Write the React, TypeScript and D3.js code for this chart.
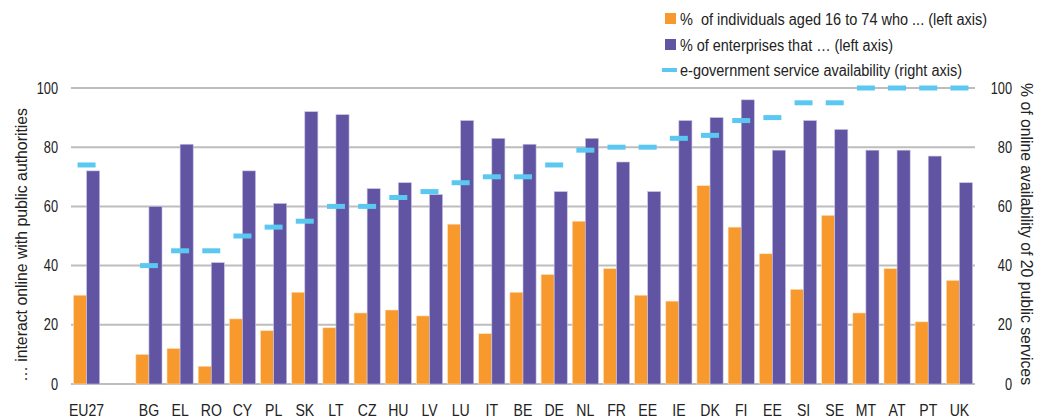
import React from "react";
import * as d3 from "d3";

// categories (the empty string keeps the gap after EU27)
const countries = ["EU27", "", "BG", "EL", "RO", "CY", "PL", "SK", "LT", "CZ", "HU", "LV", "LU", "IT", "BE", "DE", "NL", "FR", "EE", "IE", "DK", "FI", "EE", "SI", "SE", "MT", "AT", "PT", "UK"];

// % of individuals aged 16 to 74 who interact online with public authorities
const individuals = [30, null, 10, 12, 6, 22, 18, 31, 19, 24, 25, 23, 54, 17, 31, 37, 55, 39, 30, 28, 67, 53, 44, 32, 57, 24, 39, 21, 35];
// % of enterprises that interact online with public authorities
const enterprises = [72, null, 60, 81, 41, 72, 61, 92, 91, 66, 68, 64, 89, 83, 81, 65, 83, 75, 65, 89, 90, 96, 79, 89, 86, 79, 79, 77, 68];
// e-government service availability (right axis)
const availability = [74, null, 40, 45, 45, 50, 53, 55, 60, 60, 63, 65, 68, 70, 70, 74, 79, 80, 80, 83, 84, 89, 90, 95, 95, 100, 100, 100, 100];

const leftTicks = [0, 20, 40, 60, 80, 100];
const rightTicks = [0, 20, 40, 60, 80, 100];

const ORANGE = "#F7992C";
const PURPLE = "#6155A3";
const CYAN = "#5BC8F1";
const GRID = "#BDBDBD";
const FONT = "'Liberation Sans', Arial, sans-serif";

export default function App() {
  const width = 1037, height = 419;
  const left = 71, right = 975, top = 88, bottom = 384;

  const x = d3.scaleBand<number>()
    .domain(countries.map((_, i) => i))
    .range([left, right])
    .paddingInner(0.16)
    .paddingOuter(0.08);
  const inner = d3.scaleBand<string>()
    .domain(["ind", "ent"])
    .range([0, x.bandwidth()]);
  const y = d3.scaleLinear().domain([0, 100]).range([bottom, top]);
  const y2 = d3.scaleLinear().domain([0, 100]).range([bottom, top]);

  return (
    <div style={{ position: "absolute", left: 0, top: 0 }}>
      <svg width={width} height={height} style={{ display: "block", fontFamily: FONT }}>
        <rect width={width} height={height} fill="#fff" />

        {/* gridlines */}
        {leftTicks.map(t => (
          <line key={"g" + t} x1={left} x2={right} y1={y(t)} y2={y(t)} stroke={GRID} strokeWidth={2} />
        ))}

        {/* bars */}
        {countries.map((c, i) => {
          const x0 = x(i)!;
          const a = individuals[i], b = enterprises[i];
          return (
            <g key={"b" + i}>
              {a != null && (
                <rect x={x0 + inner("ind")!} y={y(a)} width={inner.bandwidth()} height={bottom - y(a)}
                  fill={ORANGE} stroke="#fbe3c4" strokeWidth={0.6} />
              )}
              {b != null && (
                <rect x={x0 + inner("ent")!} y={y(b)} width={inner.bandwidth()} height={bottom - y(b)}
                  fill={PURPLE} stroke="#c9c4e4" strokeWidth={0.6} />
              )}
            </g>
          );
        })}

        {/* e-government availability dashes */}
        {countries.map((c, i) => {
          const v = availability[i];
          if (v == null) return null;
          const cx = x(i)! + x.bandwidth() / 2;
          return (
            <line key={"d" + i} x1={cx - 9} x2={cx + 9} y1={y2(v)} y2={y2(v)} stroke={CYAN} strokeWidth={5} />
          );
        })}

        {/* left axis labels */}
        {leftTicks.map(t => (
          <text key={"l" + t} transform={`translate(58,${y(t)}) scale(0.8,1)`} dy="0.35em" textAnchor="end" fontSize={16} fill="#222">{t}</text>
        ))}
        {/* right axis labels */}
        {rightTicks.map(t => (
          <text key={"r" + t} transform={`translate(1012,${y2(t)}) scale(0.8,1)`} dy="0.35em" textAnchor="end" fontSize={16} fill="#222">{t}</text>
        ))}

        {/* category labels */}
        {countries.map((c, i) => (
          <text key={"x" + i} transform={`translate(${x(i)! + x.bandwidth() / 2},416) scale(0.88,1)`} textAnchor="middle" fontSize={16} fill="#222">{c}</text>
        ))}

        {/* axis titles */}
        <text transform="translate(21,245) rotate(-90)" dy="0.35em" textAnchor="middle" fontSize={16} fill="#222"
          textLength={274} lengthAdjust="spacingAndGlyphs">
          … interact online with public authorities
        </text>
        <text transform="translate(1027,234) rotate(90)" dy="0.35em" textAnchor="middle" fontSize={16} fill="#222"
          textLength={302} lengthAdjust="spacingAndGlyphs">
          % of online availability of 20 public services
        </text>

        {/* legend */}
        <g fontSize={16} fill="#222">
          <rect x={665} y={13} width={11} height={11} fill={ORANGE} />
          <text x={680} y={19} dy="0.35em" style={{ whiteSpace: "pre" }} textLength={307} lengthAdjust="spacingAndGlyphs">%  of individuals aged 16 to 74 who ... (left axis)</text>
          <rect x={665} y={39} width={11} height={11} fill={PURPLE} />
          <text x={680} y={45} dy="0.35em" textLength={213} lengthAdjust="spacingAndGlyphs">% of enterprises that … (left axis)</text>
          <line x1={662} x2={677} y1={70} y2={70} stroke={CYAN} strokeWidth={4} />
          <text x={680} y={70} dy="0.35em" textLength={282} lengthAdjust="spacingAndGlyphs">e-government service availability (right axis)</text>
        </g>
      </svg>
    </div>
  );
}
